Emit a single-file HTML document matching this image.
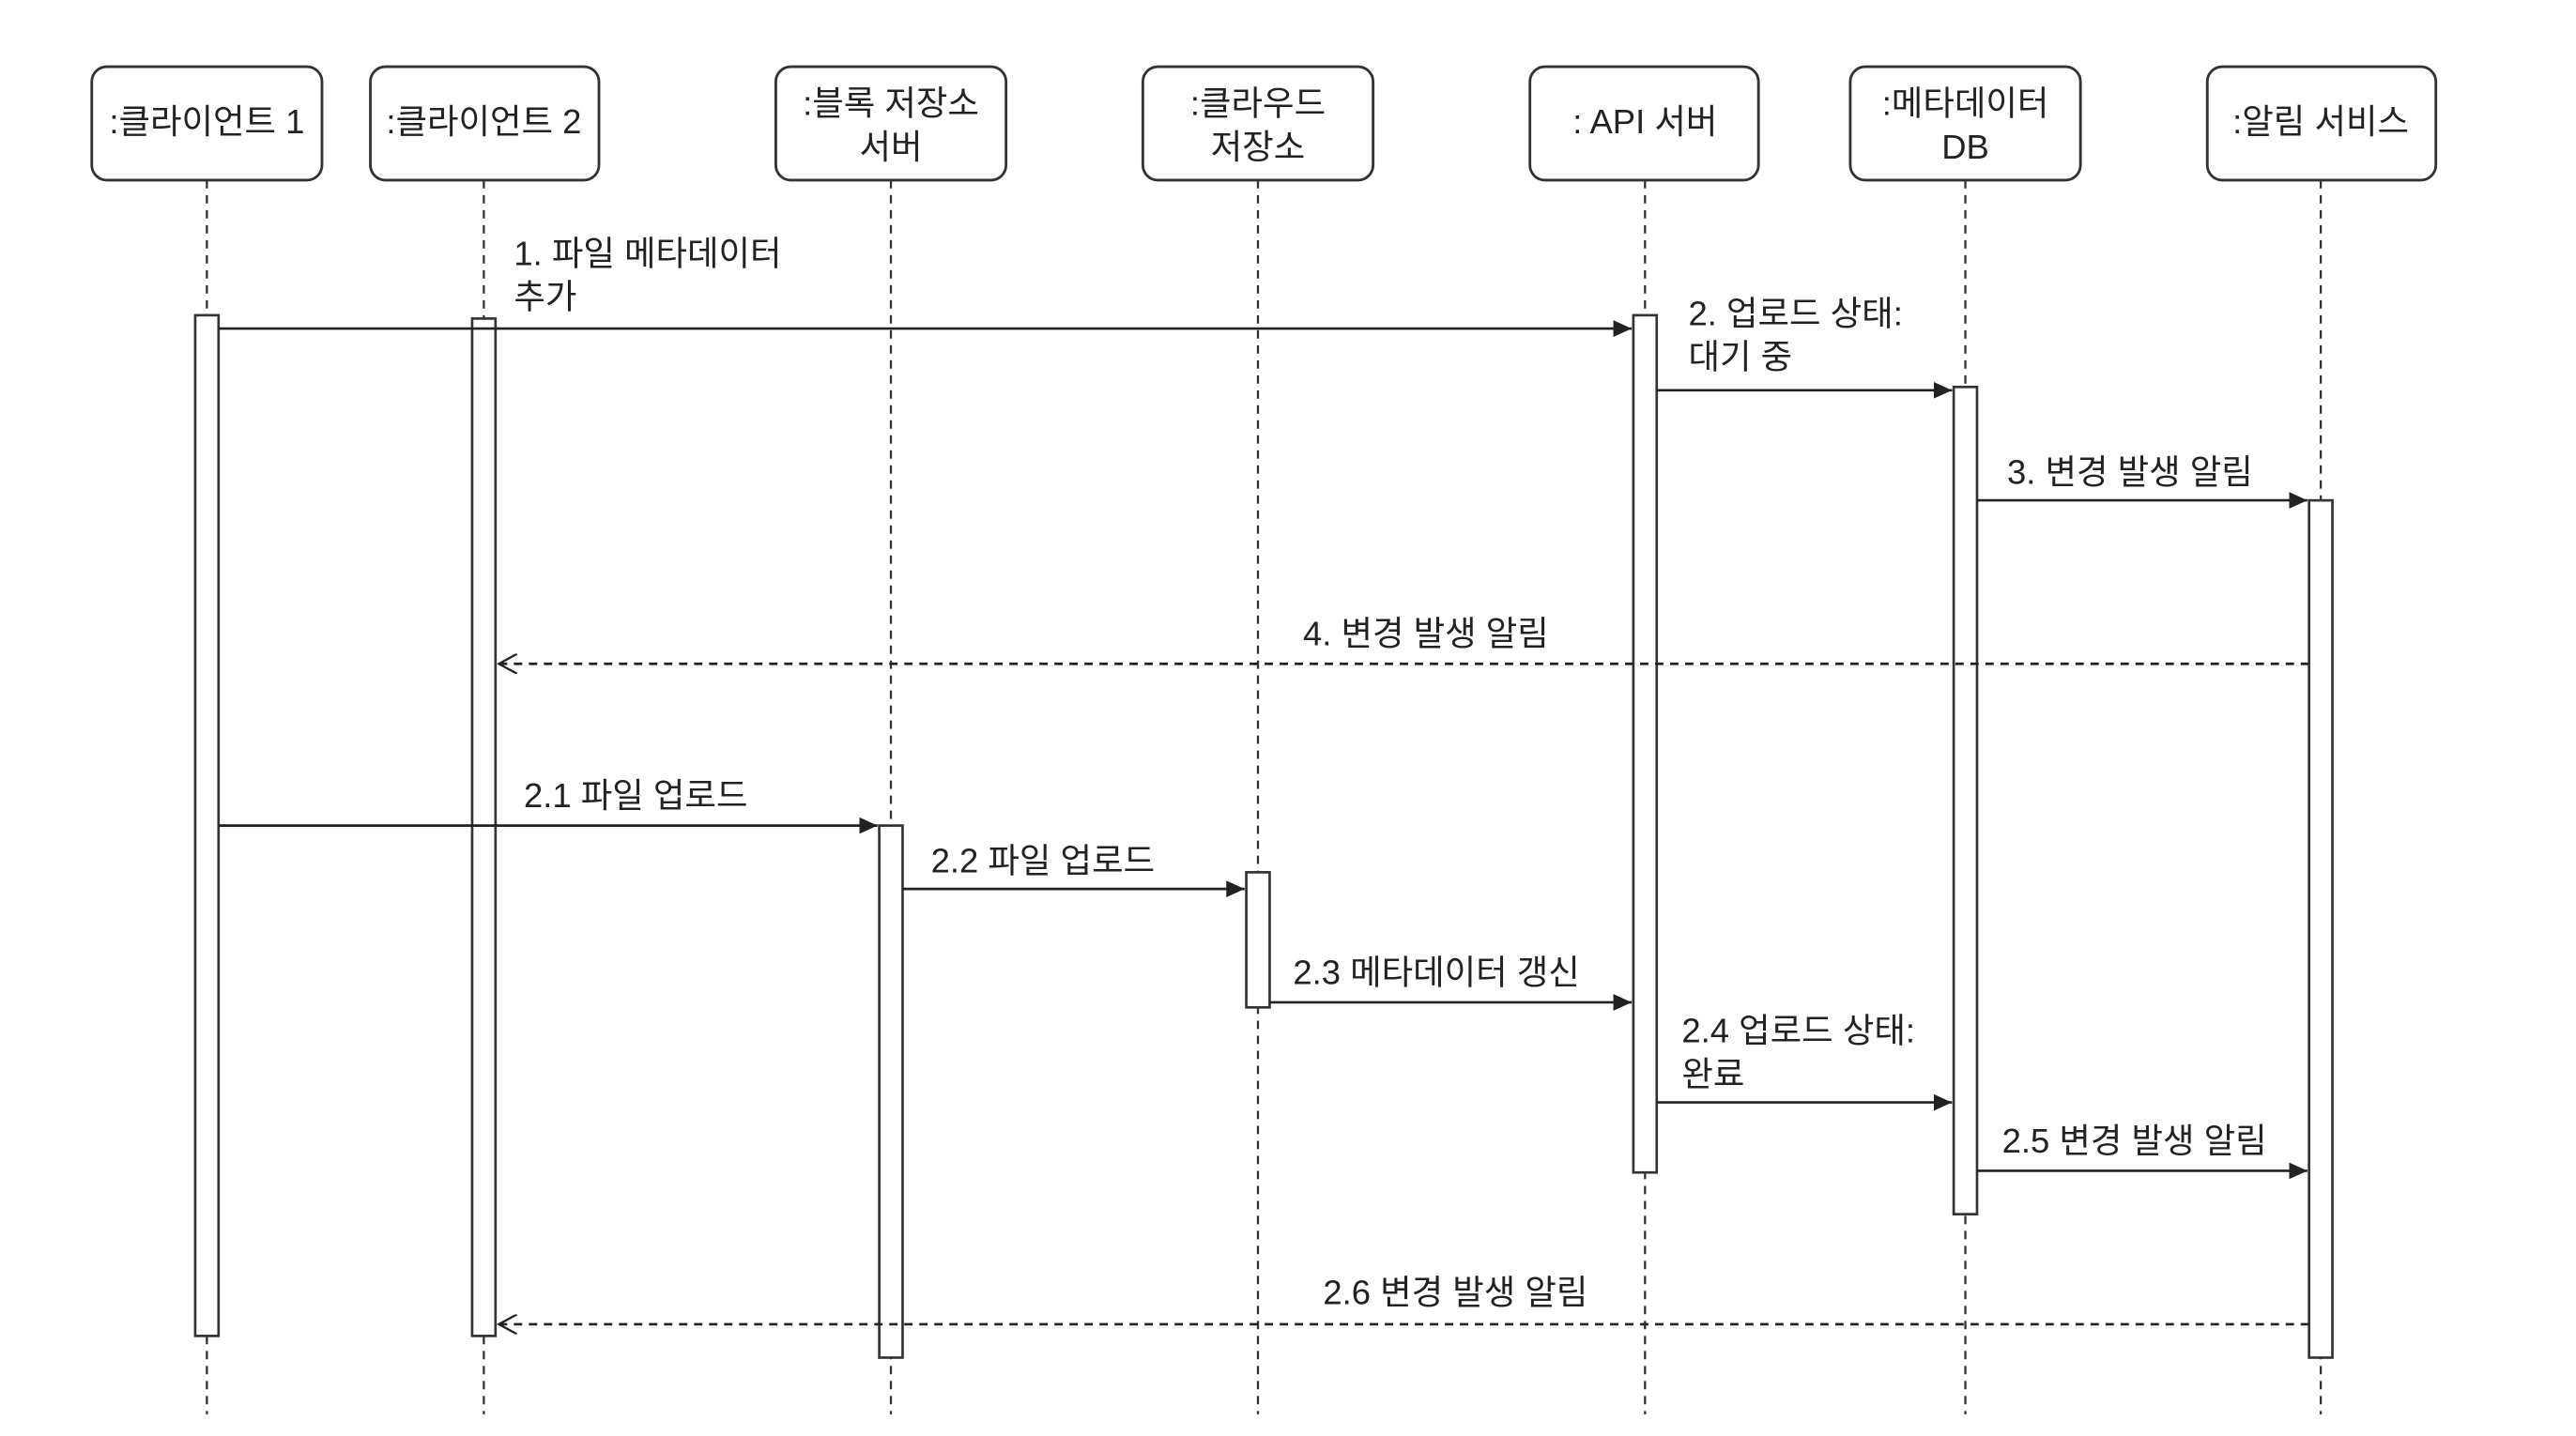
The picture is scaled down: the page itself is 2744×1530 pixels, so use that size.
<!DOCTYPE html>
<html><head><meta charset="utf-8"><style>
html,body{margin:0;padding:0;background:#fff;}
svg{display:block;}
text{font-family:"Liberation Sans","Noto Sans CJK KR",sans-serif;font-size:20.5px;fill:#222;}
</style></head><body>
<svg width="2744" height="1530" viewBox="0 0 1544 861" preserveAspectRatio="none" xmlns="http://www.w3.org/2000/svg">
<defs>
<marker id="a" markerWidth="12" markerHeight="10" refX="11" refY="5" orient="auto" markerUnits="userSpaceOnUse"><path d="M0,0 L11,5 L0,10 z" fill="#222"/></marker>
<marker id="o" markerWidth="12" markerHeight="12" refX="11" refY="6" orient="auto" markerUnits="userSpaceOnUse"><path d="M0,0 L11,6 L0,12" fill="none" stroke="#222" stroke-width="1.3"/></marker>
</defs>
<g stroke="#333" stroke-width="1.3" stroke-dasharray="5,4">
<line x1="124" y1="108" x2="124" y2="848"/>
<line x1="290" y1="108" x2="290" y2="848"/>
<line x1="534" y1="108" x2="534" y2="848"/>
<line x1="754" y1="108" x2="754" y2="848"/>
<line x1="986" y1="108" x2="986" y2="848"/>
<line x1="1178" y1="108" x2="1178" y2="848"/>
<line x1="1391" y1="108" x2="1391" y2="848"/>
</g>
<g fill="#fff" stroke="#333" stroke-width="1.6">
<rect x="55" y="40" width="138" height="68" rx="9"/>
<rect x="222" y="40" width="137" height="68" rx="9"/>
<rect x="465" y="40" width="138" height="68" rx="9"/>
<rect x="685" y="40" width="138" height="68" rx="9"/>
<rect x="917" y="40" width="137" height="68" rx="9"/>
<rect x="1109" y="40" width="138" height="68" rx="9"/>
<rect x="1323" y="40" width="137" height="68" rx="9"/>
</g>
<g text-anchor="middle">
<text x="124" y="80">:클라이언트 1</text>
<text x="290" y="80">:클라이언트 2</text>
<text x="534" y="69">:블록 저장소</text><text x="534" y="95">서버</text>
<text x="754" y="69">:클라우드</text><text x="754" y="95">저장소</text>
<text x="986" y="80">: API 서버</text>
<text x="1178" y="69">:메타데이터</text><text x="1178" y="95">DB</text>
<text x="1391" y="80">:알림 서비스</text>
</g>
<g fill="#fff" stroke="#333" stroke-width="1.5">
<rect x="117" y="189" width="14" height="612"/>
<rect x="283" y="191" width="14" height="610"/>
<rect x="979" y="189" width="14" height="514"/>
<rect x="1171" y="232" width="14" height="496"/>
<rect x="1384" y="300" width="14" height="514"/>
<rect x="527" y="495" width="14" height="319"/>
<rect x="747" y="523" width="14" height="81"/>
</g>
<g stroke="#222" stroke-width="1.5" fill="none">
<line x1="131" y1="197" x2="978" y2="197" marker-end="url(#a)"/>
<line x1="993" y1="234" x2="1170" y2="234" marker-end="url(#a)"/>
<line x1="1185" y1="300" x2="1383" y2="300" marker-end="url(#a)"/>
<line x1="1384" y1="398" x2="299" y2="398" stroke-dasharray="5,4" marker-end="url(#o)"/>
<line x1="131" y1="495" x2="526" y2="495" marker-end="url(#a)"/>
<line x1="541" y1="533" x2="746" y2="533" marker-end="url(#a)"/>
<line x1="761" y1="601" x2="978" y2="601" marker-end="url(#a)"/>
<line x1="993" y1="661" x2="1170" y2="661" marker-end="url(#a)"/>
<line x1="1185" y1="702" x2="1383" y2="702" marker-end="url(#a)"/>
<line x1="1384" y1="794" x2="299" y2="794" stroke-dasharray="5,4" marker-end="url(#o)"/>
</g>
<text x="308" y="159">1. 파일 메타데이터</text><text x="308" y="185">추가</text>
<text x="1012" y="195">2. 업로드 상태:</text><text x="1012" y="221">대기 중</text>
<text x="1203" y="290">3. 변경 발생 알림</text>
<text x="781" y="387">4. 변경 발생 알림</text>
<text x="314" y="484">2.1 파일 업로드</text>
<text x="558" y="523">2.2 파일 업로드</text>
<text x="775" y="590">2.3 메타데이터 갱신</text>
<text x="1008" y="625">2.4 업로드 상태:</text><text x="1008" y="651">완료</text>
<text x="1200" y="691">2.5 변경 발생 알림</text>
<text x="793" y="782">2.6 변경 발생 알림</text>
</svg>
</body></html>
